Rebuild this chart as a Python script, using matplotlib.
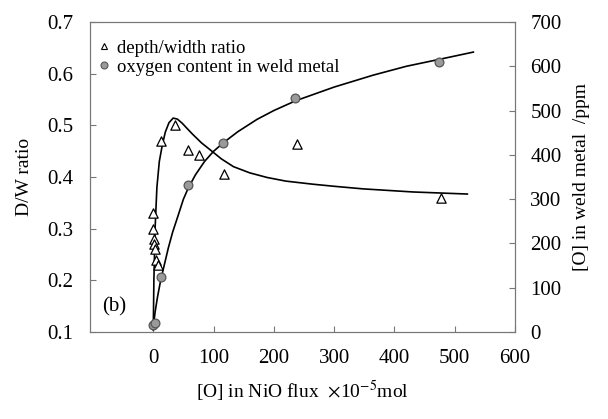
import matplotlib
matplotlib.use("Agg")
import matplotlib.pyplot as plt
from matplotlib.lines import Line2D

plt.rcParams['font.family'] = ['Liberation Serif', 'DejaVu Serif']
plt.rcParams['mathtext.fontset'] = 'stix'

# measured points: depth/width ratio (left axis)
dw_x = [0, 0, 2, 2, 3, 5, 8, 13, 36, 58, 76, 118, 239, 478]
dw_y = [0.33, 0.30, 0.28, 0.27, 0.26, 0.24, 0.23, 0.47, 0.50, 0.452, 0.442, 0.406, 0.464, 0.359]

# measured points: oxygen content in weld metal (right axis, ppm)
ox_x = [0, 3, 13, 58, 116, 235, 474]
ox_y = [15, 20, 125, 332, 427, 528, 609]

# fitted curves
dw_fit_x = [0, 1, 3, 6, 10, 15, 20, 26, 33, 40, 48, 56, 65, 80, 95, 113, 133,
            160, 189, 220, 265, 300, 348, 431, 521]
dw_fit_y = [0.104, 0.2, 0.3, 0.38, 0.43, 0.462, 0.487, 0.505, 0.514, 0.512, 0.504,
            0.494, 0.483, 0.466, 0.452, 0.435, 0.42, 0.408, 0.399, 0.392, 0.386,
            0.382, 0.377, 0.371, 0.367]
ox_fit_x = [0, 3, 7, 12, 18, 25, 32, 40, 50, 58, 70, 85, 100, 116, 140, 172, 200,
            236, 300, 365, 420, 476, 531]
ox_fit_y = [11, 45, 79, 115, 150, 190, 225, 258, 300, 325, 355, 385, 408, 427, 452,
            480, 500, 522, 553, 580, 600, 616, 632]

x_ticks = [0, 100, 200, 300, 400, 500, 600]
left_ticks = [0.1, 0.2, 0.3, 0.4, 0.5, 0.6, 0.7]
right_ticks = [0, 100, 200, 300, 400, 500, 600, 700]

fig = plt.figure(figsize=(6.08, 4.19), dpi=100)
ax = fig.add_axes([0.148, 0.2076, 0.699, 0.74])
ax2 = ax.twinx()

ax.plot(dw_fit_x, dw_fit_y, color='black', lw=1.2, zorder=2)
ax.scatter(dw_x, dw_y, marker='^', s=45, facecolors='white', edgecolors='black',
           linewidths=0.9, zorder=3)
ax2.plot(ox_fit_x, ox_fit_y, color='black', lw=1.2, zorder=2)
ax2.scatter(ox_x, ox_y, marker='o', s=40, facecolors='#9a9a9a', edgecolors='#555555',
            linewidths=0.9, zorder=3)

ax.set_xlim(-105, 600)
ax.set_ylim(0.1, 0.7)
ax2.set_ylim(0, 700)
ax.set_xticks(x_ticks)
ax.set_yticks(left_ticks)
ax.set_yticklabels([f"{v:.1f}" for v in left_ticks])
ax2.set_yticks(right_ticks)

for a in (ax, ax2):
    for s in a.spines.values():
        s.set_color('#777777')
        s.set_linewidth(0.8)
ax.tick_params(axis='both', direction='in', length=4, labelsize=15, pad=12, color='#777777')
ax2.tick_params(axis='y', direction='in', length=4, labelsize=15, pad=11, color='#777777')

ax.set_ylabel("D/W ratio", fontsize=14, labelpad=10)
ax2.set_ylabel("[O] in weld metal  /ppm", fontsize=14, labelpad=8)
ax.set_xlabel(r"[O] in NiO flux  $\times$10$^{-5}$mol", fontsize=14, labelpad=8)

ax.text(-85, 0.14, "(b)", fontsize=15)

handles = [
    Line2D([], [], marker='^', ls='none', markersize=5, markerfacecolor='white',
           markeredgecolor='black', markeredgewidth=0.8),
    Line2D([], [], marker='o', ls='none', markersize=5, markerfacecolor='#9a9a9a',
           markeredgecolor='#555555', markeredgewidth=0.8),
]
ax2.legend(handles, ["depth/width ratio", "oxygen content in weld metal"],
           loc='upper left', bbox_to_anchor=(-0.025, 0.985), frameon=False, fontsize=13.5,
           handletextpad=0.1, handlelength=1.2, labelspacing=0.1, borderaxespad=0.3)

fig.savefig("out.png", dpi=100)
